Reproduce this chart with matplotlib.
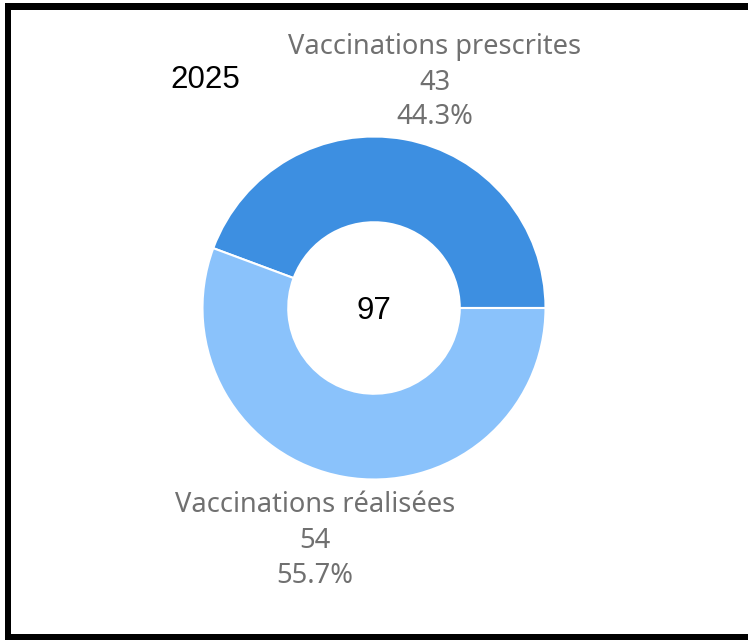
import matplotlib.pyplot as plt
from matplotlib.patches import Rectangle

categories = ["Vaccinations prescrites", "Vaccinations réalisées"]
values = [43, 54]
colors = ["#3d8fe1", "#8ac2fb"]
year_label = "2025"

total = sum(values)
pcts = [v / total * 100 for v in values]

W, H = 748, 640
fig = plt.figure(figsize=(W / 100, H / 100), dpi=100)
ax = fig.add_axes([0, 0, 1, 1])

cx, cy = 374, H - 308
radius = 171.5
ax.pie(values, colors=colors, startangle=0, counterclock=True,
       center=(cx, cy), radius=radius,
       wedgeprops=dict(width=radius * 0.5, edgecolor="white", linewidth=1.5))
ax.set_xlim(0, W)
ax.set_ylim(0, H)
ax.set_aspect("equal")
ax.axis("off")

lab_font = dict(family="Noto Sans", fontsize=19.6, color="#707070", ha="center", va="center")
ax.text(435, H - 47, categories[0], **lab_font)
ax.text(435, H - 83, f"{values[0]}", **lab_font)
ax.text(435, H - 117, f"{pcts[0]:.1f}%", **lab_font)

ax.text(315, H - 505, categories[1], **lab_font)
ax.text(315, H - 541, f"{values[1]}", **lab_font)
ax.text(315, H - 576, f"{pcts[1]:.1f}%", **lab_font)

big = dict(family="Liberation Sans", fontsize=22.5, color="black", va="center")
ax.text(170, H - 80, year_label, ha="left", **big)
ax.text(cx, cy - 3, f"{total}", ha="center", **big)

# black frame (left, top, bottom)
for x, y, w, h in [(5, 3, 6, 637), (5, 3, W - 5, 7), (5, 634, W - 5, 6)]:
    fig.patches.append(Rectangle((x / W, 1 - (y + h) / H), w / W, h / H,
                                 transform=fig.transFigure, facecolor="black",
                                 edgecolor="none"))

fig.savefig("out.png", dpi=100)
